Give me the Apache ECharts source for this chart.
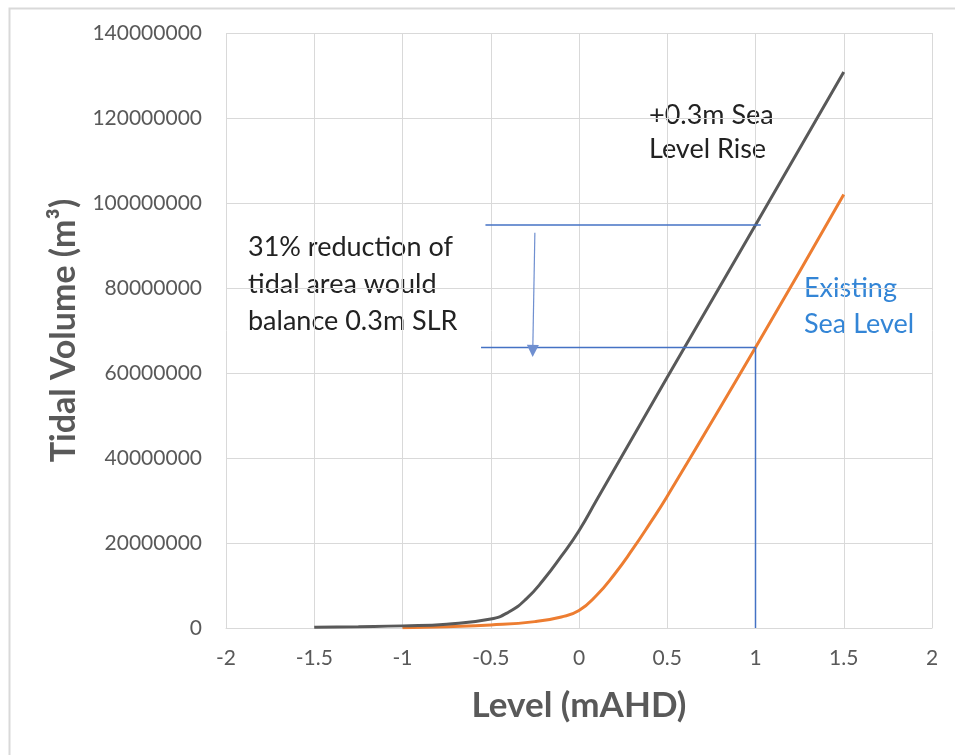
<!DOCTYPE html>
<html>
<head>
<meta charset="utf-8">
<script src="https://cdn.jsdelivr.net/npm/echarts@6/dist/echarts.min.js"></script>
<style>
  html, body { margin: 0; padding: 0; background: #ffffff; }
  #chart { width: 955px; height: 755px; }
</style>
</head>
<body>
<div id="chart"></div>
<script>
// Tidal volume against water level, with +0.3 m sea level rise
const slrLevels = [-1.5, -1.25, -1, -0.75, -0.5, -0.4, -0.3, -0.2, -0.1, 0, 0.1, 0.5, 1, 1.5];
const slrVolumes = [150000, 300000, 500000, 900000, 2100000, 3700000, 6800000, 11400000, 16900000, 22900000, 30100000, 59000000, 94800000, 130800000];

// Tidal volume against water level, present day
const existingLevels = [-1, -0.75, -0.5, -0.25, -0.1, 0, 0.1, 0.2, 0.3, 0.4, 0.5, 1, 1.5];
const existingVolumes = [50000, 300000, 700000, 1500000, 2600000, 4100000, 7700000, 12600000, 18300000, 24500000, 31000000, 66000000, 102000000];

// Guide lines at level 1.0 mAHD
const designLevel = 1;
const slrVolumeAtDesign = 94800000;
const existingVolumeAtDesign = 66000000;
const upperGuideLevels = [-0.53, 1.03];
const lowerGuideStart = -0.555;
const arrowLevels = [-0.25, -0.262];
const arrowVolumes = [93000000, 65200000];

// Axis ranges
const xRange = [-2, 2, 0.5];
const yRange = [0, 140000000, 20000000];

const FONT = 'Lato, "Open Sans", sans-serif';
const chart = echarts.init(document.getElementById('chart'), null, { renderer: 'canvas' });

const zip = (xs, ys) => xs.map((x, i) => [x, ys[i]]);

chart.setOption({
  backgroundColor: '#ffffff',
  animation: false,
  grid: { left: 226, right: 23, top: 33, bottom: 127, outerBoundsMode: 'none', containLabel: false },
  xAxis: {
    type: 'value',
    min: xRange[0], max: xRange[1], interval: xRange[2],
    name: 'Level (mAHD)',
    nameLocation: 'middle',
    nameGap: 60,
    nameTextStyle: { fontFamily: FONT, fontSize: 35, fontWeight: 'bold', color: '#595959' },
    axisLine: { show: true, onZero: false, lineStyle: { color: '#d9d9d9', width: 1 } },
    axisTick: { show: false },
    axisLabel: { fontFamily: FONT, fontSize: 21, color: '#595959', margin: 20 },
    splitLine: { show: true, lineStyle: { color: '#d9d9d9', width: 1 } }
  },
  yAxis: {
    type: 'value',
    min: yRange[0], max: yRange[1], interval: yRange[2],
    name: 'Tidal Volume (m³)',
    nameLocation: 'middle',
    nameGap: 143,
    nameTextStyle: { fontFamily: FONT, fontSize: 34, fontWeight: 'bold', color: '#595959' },
    axisLine: { show: false },
    axisTick: { show: false },
    axisLabel: { fontFamily: FONT, fontSize: 21, color: '#595959', margin: 24, formatter: v => String(v) },
    splitLine: { show: true, lineStyle: { color: '#d9d9d9', width: 1 } }
  },
  series: [
    {
      name: 'Existing Sea Level',
      type: 'line',
      data: zip(existingLevels, existingVolumes),
      smooth: 0.5,
      showSymbol: false,
      lineStyle: { color: '#ED7D31', width: 3 },
      itemStyle: { color: '#ED7D31' },
      z: 3
    },
    {
      name: '+0.3m Sea Level Rise',
      type: 'line',
      data: zip(slrLevels, slrVolumes),
      smooth: 0.5,
      showSymbol: false,
      lineStyle: { color: '#595959', width: 3 },
      itemStyle: { color: '#595959' },
      z: 3
    },
    {
      name: 'upper guide',
      type: 'line',
      data: upperGuideLevels.map(x => [x, slrVolumeAtDesign]),
      showSymbol: false,
      silent: true,
      lineStyle: { color: '#4472C4', width: 1.5 },
      z: 4
    },
    {
      name: 'lower guide',
      type: 'line',
      data: [[lowerGuideStart, existingVolumeAtDesign], [designLevel, existingVolumeAtDesign], [designLevel, 0]],
      showSymbol: false,
      silent: true,
      lineStyle: { color: '#4472C4', width: 1.5 },
      z: 4
    },
    {
      name: 'reduction arrow',
      type: 'line',
      data: [],
      silent: true,
      markLine: {
        silent: true,
        symbol: ['none', 'triangle'],
        symbolSize: [12, 12],
        label: { show: false },
        lineStyle: { color: '#6F8FD0', width: 1.2, type: 'solid' },
        data: [[
          { coord: [arrowLevels[0], arrowVolumes[0]] },
          { coord: [arrowLevels[1], arrowVolumes[1]] }
        ]]
      },
      z: 5
    }
  ],
  graphic: [
    {
      type: 'rect',
      left: 7, top: 6,
      shape: { width: 960, height: 760 },
      style: { fill: 'none', stroke: '#d9d9d9', lineWidth: 2 },
      silent: true
    },
    {
      type: 'text',
      left: 649, top: 98,
      style: {
        text: '+0.3m Sea\nLevel Rise',
        font: '27px ' + FONT,
        lineHeight: 34,
        fill: '#222222'
      }
    },
    {
      type: 'text',
      left: 248, top: 229,
      style: {
        text: '31% reduction of\ntidal area would\nbalance 0.3m SLR',
        font: '27px ' + FONT,
        lineHeight: 37,
        fill: '#222222'
      }
    },
    {
      type: 'text',
      left: 804, top: 270,
      style: {
        text: 'Existing\nSea Level',
        font: '27px ' + FONT,
        lineHeight: 36,
        fill: '#3385D6'
      }
    }
  ]
});
</script>
</body>
</html>
